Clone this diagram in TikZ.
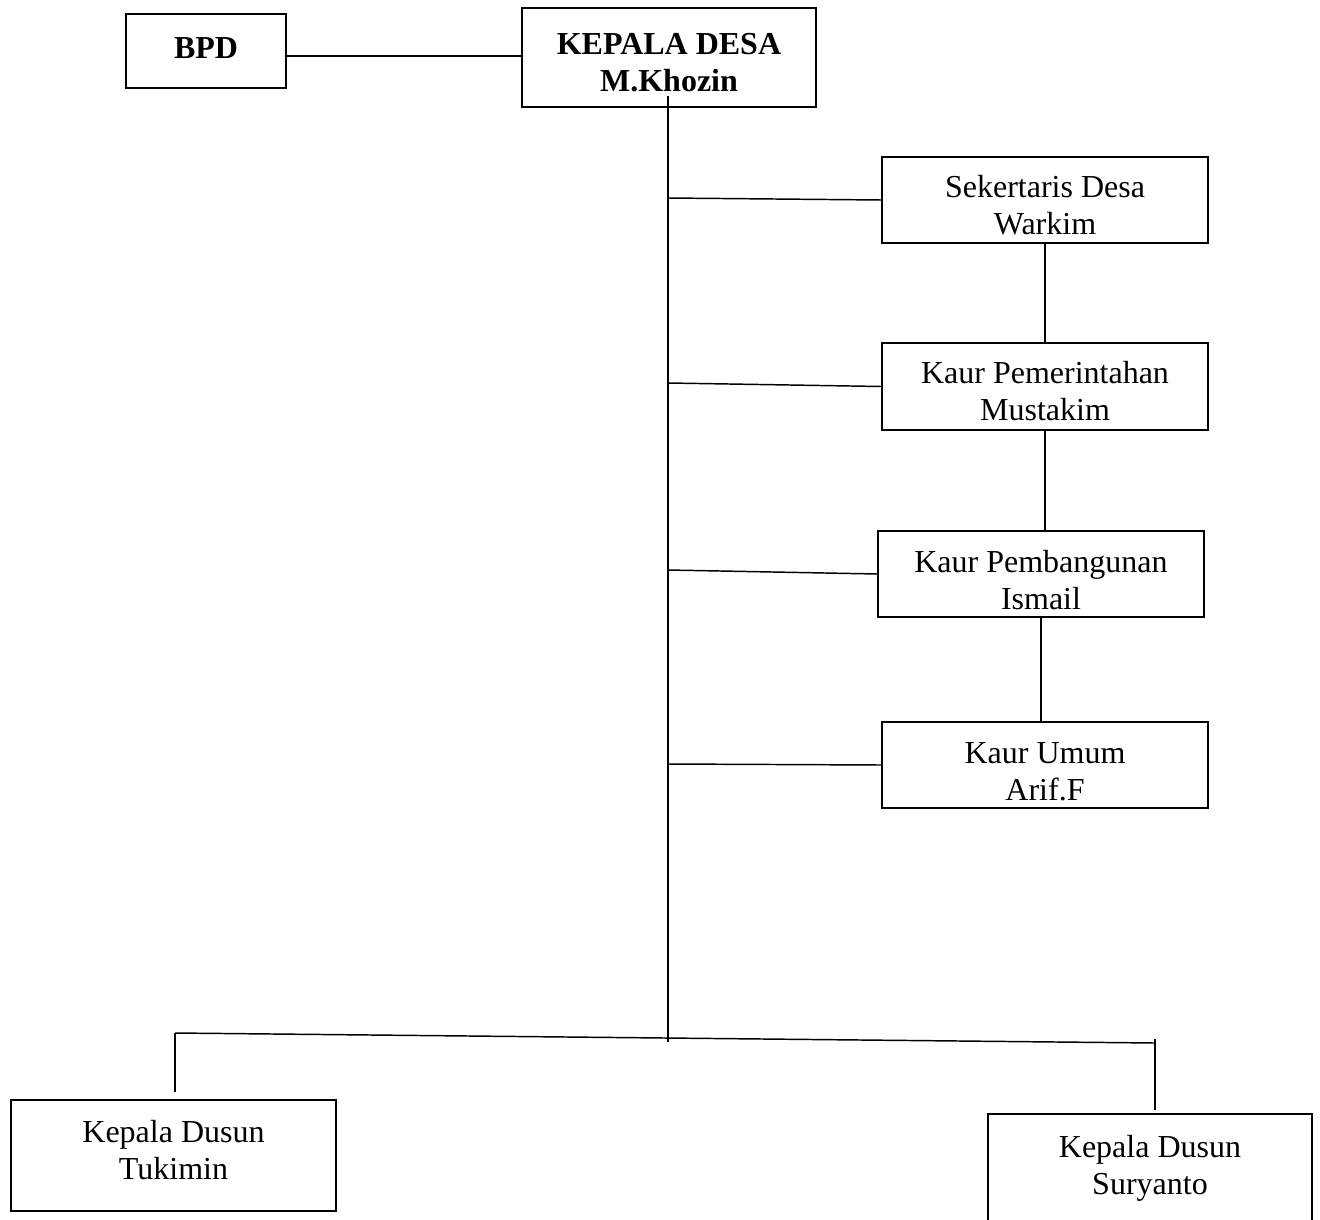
\documentclass[tikz,border=0pt]{standalone}
\usepackage{fontspec}
\setmainfont{Liberation Serif}
\newcommand{\twolines}[3]{\raisebox{#1}[\height][\depth]{\begin{tabular}{@{}c@{}}#2\\#3\end{tabular}}}
\begin{document}
\begin{tikzpicture}[x=0.75pt,y=-0.75pt,
  orgbox/.style={draw,line width=1.1pt,inner sep=0pt,align=center,
    font=\fontsize{24}{27.6}\selectfont},
  conn/.style={line width=1.1pt}]
\clip (0,0) rectangle (1320,1220);
\fill[white] (0,0) rectangle (1320,1220);
% boxes
\node[orgbox,font=\fontsize{24}{27.6}\selectfont\bfseries,minimum width=120pt,minimum height=55.5pt] (bpd) at (206,51) {\raisebox{2pt}[\height][\depth]{BPD}};
\node[orgbox,font=\fontsize{24}{27.6}\selectfont\bfseries,minimum width=220.5pt,minimum height=74.25pt] (kd) at (669,57.5) {\twolines{-5.9pt}{KEPALA DESA}{M.Khozin}};
\node[orgbox,minimum width=244.5pt,minimum height=64.5pt] (sek) at (1045,200) {\twolines{-6.4pt}{Sekertaris Desa}{Warkim}};
\node[orgbox,minimum width=244.5pt,minimum height=65.25pt] (pem) at (1045,386.5) {\twolines{-6.4pt}{Kaur Pemerintahan}{Mustakim}};
\node[orgbox,minimum width=244.5pt,minimum height=64.5pt] (pbg) at (1041,574) {\twolines{-7pt}{Kaur Pembangunan}{Ismail}};
\node[orgbox,minimum width=244.5pt,minimum height=64.5pt] (umum) at (1045,765) {\twolines{-7.2pt}{Kaur Umum}{Arif.F}};
\node[orgbox,minimum width=243.75pt,minimum height=83.25pt] (tuk) at (173.5,1155.5) {\twolines{1.7pt}{Kepala Dusun}{Tukimin}};
\node[orgbox,minimum width=243pt,minimum height=83.25pt] (sur) at (1150,1169.5) {\twolines{0.5pt}{Kepala Dusun}{Suryanto}};
% coordinates
\coordinate (bpdc) at ([yshift=-3.75pt]bpd.east);
\coordinate (t0) at (668,96);
\coordinate (j1) at (668,198);
\coordinate (j2) at (668,383);
\coordinate (j3) at (668,570);
\coordinate (j4) at (668,764);
\coordinate (jb) at (668,1042);
\coordinate (bl) at (175,1033);
\coordinate (br) at (1155,1043);
\coordinate (brt) at (1155,1039);
\coordinate (ld) at (175,1092);
\coordinate (rd) at (1155,1110);
% connectors
\draw[conn] (bpdc) -- (bpdc -| kd.west);
\draw[conn] (t0) -- (jb);
\draw[conn] (j1) -- (sek.west);
\draw[conn] (j2) -- (pem.west);
\draw[conn] (j3) -- (pbg.west);
\draw[conn] (j4) -- (umum.west);
\draw[conn] (sek.south) -- (sek.south |- pem.north);
\draw[conn] (pem.south) -- (pem.south |- pbg.north);
\draw[conn] (pbg.south) -- (pbg.south |- umum.north);
\draw[conn] (bl) -- (br);
\draw[conn] (bl) -- (ld);
\draw[conn] (brt) -- (rd);
\end{tikzpicture}
\end{document}
